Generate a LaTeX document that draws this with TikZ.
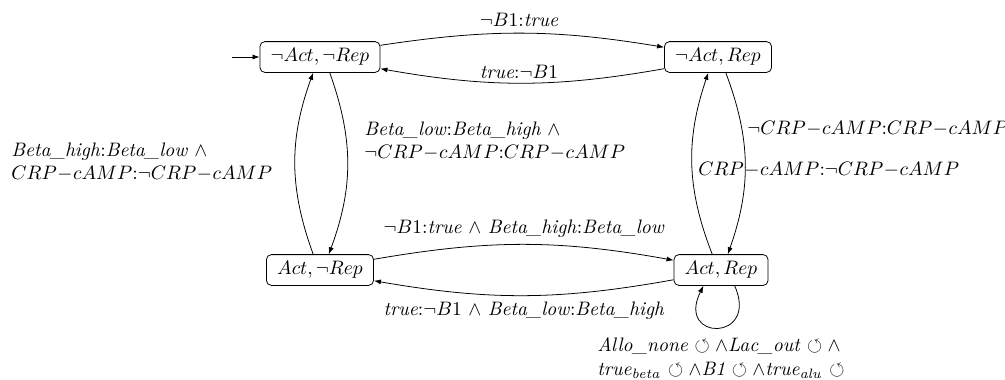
\documentclass[tikz,border=0pt]{standalone}
\usepackage{amssymb}
\usetikzlibrary{arrows.meta,calc}
% tighter minus for the compound name CRP-cAMP
\newcommand{\cmn}{\mkern0.5mu{-}\mkern0.5mu}
\newcommand{\crp}{CRP\cmn cAMP}
\begin{document}
\begin{tikzpicture}[x=0.5128pt,y=-0.5128pt,
  state/.style={draw, rounded corners=2.5pt, inner xsep=5.5pt, inner ysep=3.5pt, minimum height=15pt},
  trans/.style={-{Latex[length=3.6pt,width=2.6pt]}},
  lbl/.style={inner sep=0pt},
]
\useasboundingbox (0,0) rectangle (1005,379);

% states
\node[state] (s0) at (320,57)  {$\neg Act, \neg Rep$};
\node[state] (s1) at (718,57)  {$\neg Act, Rep$};
\node[state] (s2) at (320,270) {$Act, \neg Rep$};
\node[state] (s3) at (721,270) {$Act, Rep$};

% initial marker
\coordinate (init) at (232,57);
\draw[trans] (init) -- (s0.west);

% top pair
\draw[trans] ([yshift=6pt]s0.east) to[bend left=9] ([yshift=5pt]s1.west);
\draw[trans] ([yshift=-6pt]s1.west) to[bend left=10] ([yshift=-6pt]s0.east);

% left pair
\draw[trans] ([xshift=-3.5pt]s2.north) to[bend left=20] ([xshift=-3.5pt]s0.south);
\draw[trans] ([xshift=5pt]s0.south) to[bend left=20] ([xshift=4.5pt]s2.north);

% right pair
\draw[trans] ([xshift=-4.5pt]s3.north) to[bend left=20] ([xshift=-5pt]s1.south);
\draw[trans] ([xshift=4pt]s1.south) to[bend left=20] ([xshift=3.5pt]s3.north);

% bottom pair
\draw[trans] ([yshift=5.5pt]s2.east) to[bend left=10] ([yshift=5pt]s3.west);
\draw[trans] ([yshift=-5pt]s3.west) to[bend left=10] ([yshift=-5.5pt]s2.east);

% self loop
\draw[trans] ([xshift=7pt]s3.south) .. controls +(25,56) and +(-28,56) .. ([xshift=-9pt]s3.south);

% transition labels
\node[lbl] (l01) at (519,20) {$\neg B1$:\textit{true}};
\node[lbl] (l10) at (519,72) {\textit{true}:$\neg B1$};
\node[lbl, anchor=west, align=left] (l20) at (11,162)
  {\textit{Beta\_high}:\textit{Beta\_low} $\wedge$\\ $\crp$:$\neg \crp$};
\node[lbl, anchor=west, align=left] (l02) at (364,141)
  {\textit{Beta\_low}:\textit{Beta\_high} $\wedge$\\ $\neg \crp$:$\crp$};
\node[lbl, anchor=west] (l13) at (747,129) {$\neg \crp$:$\crp$};
\node[lbl, anchor=west] (l31) at (698,170) {$\crp$:$\neg \crp$};
\node[lbl] (l23) at (524,229) {$\neg B1$:\textit{true} $\wedge$ \textit{Beta\_high}:\textit{Beta\_low}};
\node[lbl] (l32) at (524,311) {\textit{true}:$\neg B1$ $\wedge$ \textit{Beta\_low}:\textit{Beta\_high}};
\node[lbl, anchor=west, align=left] (l33) at (597,358)
  {\textit{Allo\_none} $\circlearrowleft\wedge$\textit{Lac\_out} $\circlearrowleft\wedge$\\
   \textit{true}$_{\mathit{beta}}$ $\circlearrowleft\wedge$\textit{B1} $\circlearrowleft\wedge$\textit{true}$_{\mathit{alu}}$ $\circlearrowleft$};
\end{tikzpicture}
\end{document}
